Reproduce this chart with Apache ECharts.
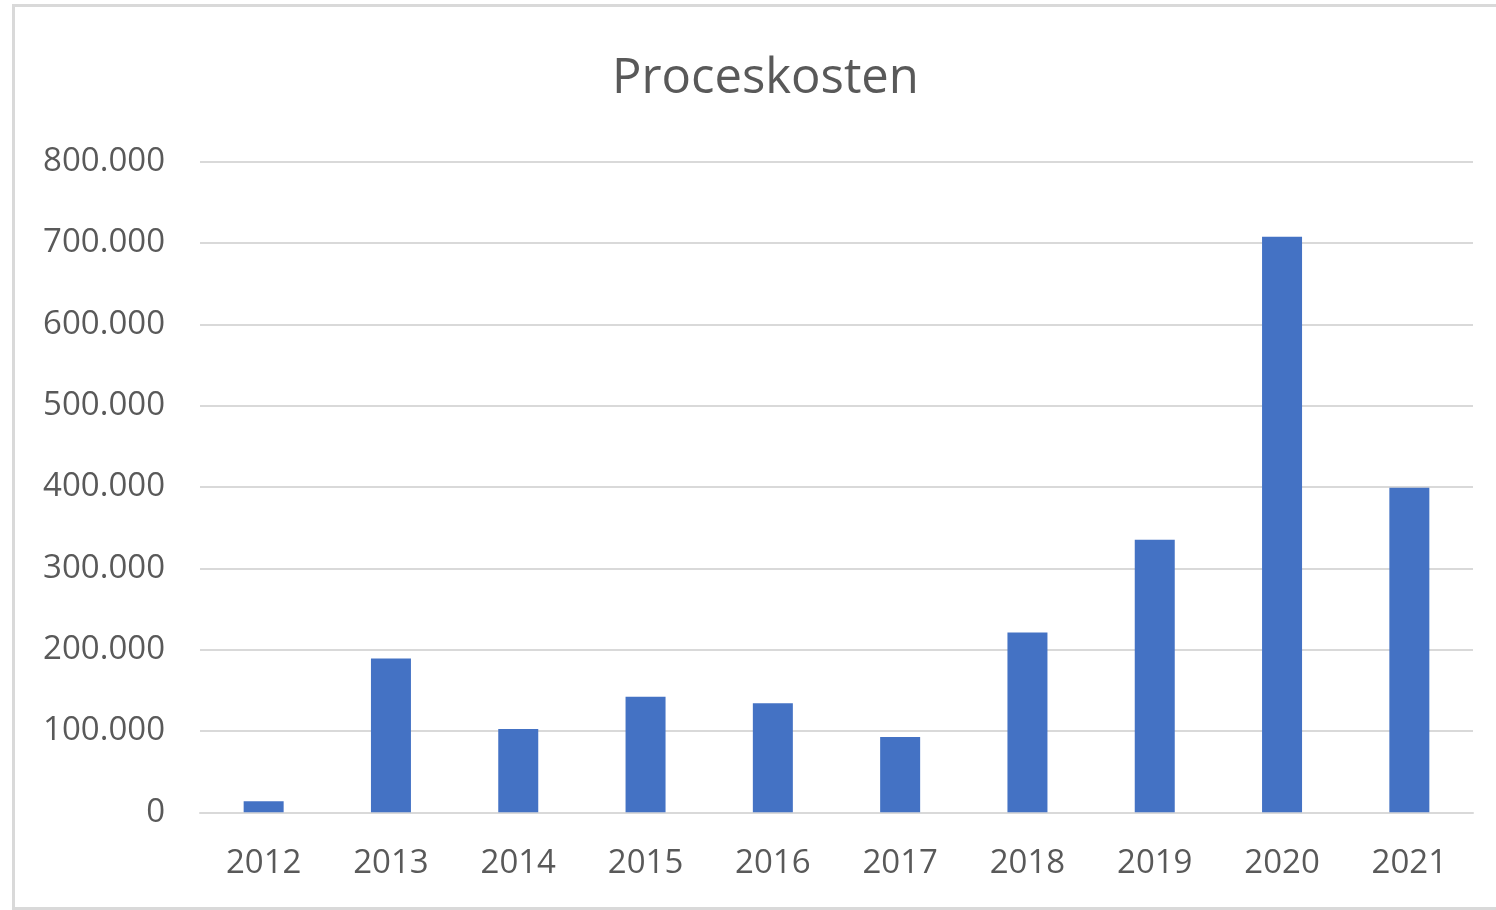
<!DOCTYPE html>
<html>
<head>
<meta charset="utf-8">
<script src="https://cdn.jsdelivr.net/npm/echarts@6/dist/echarts.min.js"></script>
<style>
html,body{margin:0;padding:0;background:#fff;}
#chart{width:1496px;height:910px;}
</style>
</head>
<body>
<div id="chart"></div>
<script>
const categories = ['2012','2013','2014','2015','2016','2017','2018','2019','2020','2021'];
const values = [13500, 189000, 102500, 142000, 134000, 92500, 221000, 335000, 707500, 399000];
const yTicks = [0, 100000, 200000, 300000, 400000, 500000, 600000, 700000, 800000];
const titleText = 'Proceskosten';

function fmt(v){
  if (v === 0) return '0';
  return String(v).replace(/\B(?=(\d{3})+(?!\d))/g, '.');
}

const chart = echarts.init(document.getElementById('chart'), null, {renderer:'canvas'});
chart.setOption({
  animation:false,
  backgroundColor:'#ffffff',
  title:{
    text:titleText,
    left:607,
    top:50,
    textStyle:{fontFamily:'Open Sans', fontSize:49, fontWeight:'normal', color:'#595959'}
  },
  graphic:[{
    type:'rect',
    shape:{x:13.5, y:5.5, width:1500, height:903},
    style:{fill:'none', stroke:'#d9d9d9', lineWidth:3},
    silent:true
  }],
  grid:{left:200, right:23, top:161.6, bottom:97.7, containLabel:false},
  xAxis:{
    type:'category',
    data:categories,
    axisLine:{show:true, lineStyle:{color:'#d9d9d9', width:2}},
    axisTick:{show:false},
    axisLabel:{fontFamily:'Open Sans', fontSize:33, color:'#595959', margin:35}
  },
  yAxis:{
    type:'value',
    min:yTicks[0],
    max:yTicks[yTicks.length-1],
    interval:100000,
    axisLine:{show:false},
    axisTick:{show:false},
    splitLine:{show:true, lineStyle:{color:'#d9d9d9', width:2}},
    axisLabel:{fontFamily:'Open Sans', fontSize:33, color:'#595959', margin:35, formatter:fmt, padding:[3,0,0,0]}
  },
  series:[{
    type:'bar',
    data:values,
    barWidth:40,
    itemStyle:{color:'#4472C4'}
  }]
});
</script>
</body>
</html>
